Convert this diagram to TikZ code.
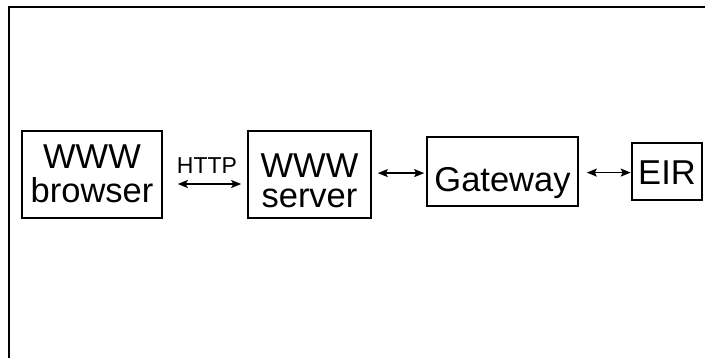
\documentclass[tikz,border=0pt]{standalone}
\usepackage{fontspec}
\setmainfont{Liberation Sans}
\usetikzlibrary{arrows.meta,calc}
\begin{document}
\begin{tikzpicture}[x=1pt,y=-1pt,
  box/.style={draw, line width=1.6pt, inner sep=0pt,
    font=\fontsize{34.5}{30}\selectfont, text depth=0pt},
  arr/.style={{Stealth[length=10pt,width=8pt,inset=2pt]}-{Stealth[length=10pt,width=8pt,inset=2pt]},
    line width=1.6pt},
  lbl/.style={font=\fontsize{23}{23}\selectfont, inner sep=0pt, anchor=base},
]
\useasboundingbox (0,0) rectangle (705,358);

% frame (top and left edges only)
\draw[line width=1.6pt] (9,362) -- (9,7) -- (709,7);

% blocks
\node[box, minimum width=140pt, minimum height=87pt, text height=57pt]
  (browser) at (92,174.5) {\begin{tabular}[b]{@{}c@{}}WWW\\browser\end{tabular}};
\node[box, minimum width=123pt, minimum height=87pt, text height=65.6pt]
  (server) at (309.5,174.5) {\begin{tabular}[b]{@{}c@{}}WWW\\server\end{tabular}};
\node[box, minimum width=151pt, minimum height=69pt, text height=40.2pt]
  (gateway) at (502.5,171.6) {Gateway};
\node[box, minimum width=70pt, minimum height=57pt, text height=26.6pt]
  (EIR) at (667,171.6) {EIR};

% links
\draw[arr] ($(browser.east)+(15,9.5)$) -- ($(server.west)+(-6,9.5)$)
  node[lbl, midway, yshift=10pt, xshift=-2.5pt] {HTTP};
\draw[arr] ($(server.east |- gateway.west)+(6,1.5)$) -- ($(gateway.west)+(-2,1.5)$);
\draw[arr] ($(gateway.east)+(8,1)$) -- ($(EIR.west)+(-0.5,1)$);
\end{tikzpicture}
\end{document}
